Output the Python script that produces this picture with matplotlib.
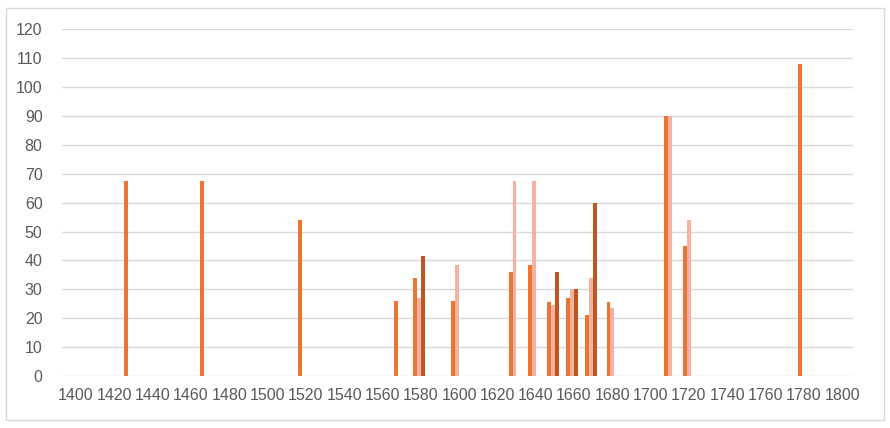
import numpy as np
import matplotlib.pyplot as plt
from matplotlib.patches import Rectangle

# Data
years = [1428, 1468, 1519, 1569, 1579, 1599, 1629, 1639, 1649, 1659, 1669, 1680, 1710, 1720, 1780]
series1 = [67.5, 67.5, 54, 26, 34, 26, 36, 38.5, 25.5, 27, 21, 25.5, 90, 45, 108]
series2 = [0, 0, 0, 0, 27, 38.5, 67.5, 67.5, 24.5, 30, 34, 23.5, 90, 54, 0]
series3 = [0, 0, 0, 0, 41.5, 0, 0, 0, 36, 30, 60, 0, 0, 0, 0]

colors = ['#ED7433', '#F4B3A1', '#C0561F']
bar_width = 2.0
x = np.array(years)

fig = plt.figure(figsize=(8.9, 4.28), dpi=100)
# outer chart border
fig.patches.append(Rectangle((6 / 890, 1 - 420 / 428), 878 / 890, 412 / 428,
                             transform=fig.transFigure, fill=False,
                             edgecolor='#D9D9D9', linewidth=1))
ax = fig.add_axes([62 / 890, 1 - 376 / 428, (853 - 62) / 890, (376 - 29.3) / 428])

ax.bar(x - bar_width, series1, width=bar_width, color=colors[0], zorder=3)
ax.bar(x, series2, width=bar_width, color=colors[1], zorder=3)
ax.bar(x + bar_width, series3, width=bar_width, color=colors[2], zorder=3)

ax.set_xlim(1392.7, 1805.7)
ax.set_ylim(0, 120)
ax.set_xticks(np.arange(1400, 1801, 20))
ax.set_yticks(np.arange(0, 121, 10))

for s in ax.spines.values():
    s.set_visible(False)
ax.grid(axis='y', color='#D9D9D9', linewidth=1, zorder=0)
ax.tick_params(length=0, labelsize=11.5, colors='#595959')
ax.tick_params(axis='y', pad=14)
ax.tick_params(axis='x', pad=9)
for lbl in ax.get_xticklabels() + ax.get_yticklabels():
    lbl.set_family('Liberation Sans')

fig.savefig('out.png', dpi=100)
